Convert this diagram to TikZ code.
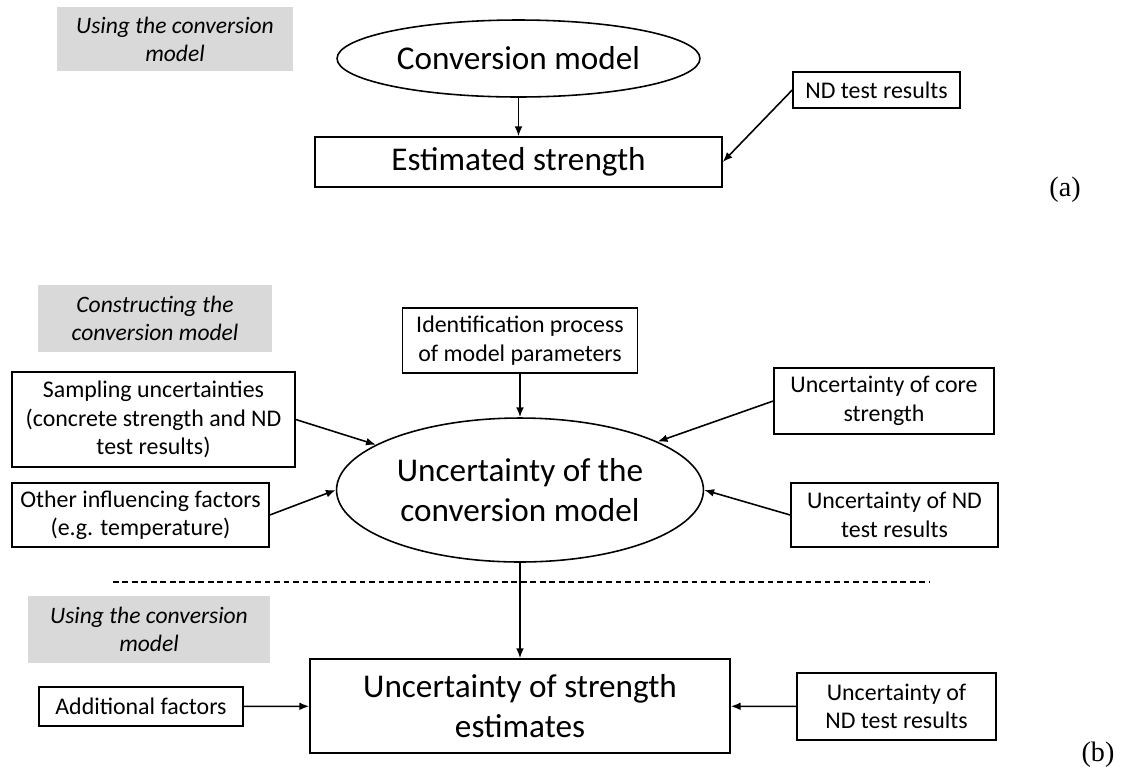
\documentclass[tikz,border=0pt]{standalone}
\usepackage{fontspec}
\setmainfont{Carlito}
\newfontfamily\timesfont{Liberation Serif}
\usetikzlibrary{shapes.geometric,arrows.meta}
\definecolor{tagGray}{HTML}{D9D9D9}

\begin{document}
\begin{tikzpicture}[x=0.02cm,y=-0.02cm,
    box/.style={draw,line width=0.9pt,rectangle,align=center,inner sep=0pt,
      font=\fontsize{13.6}{16.2}\selectfont},
    oval/.style={draw,line width=0.9pt,ellipse,align=center,inner sep=0pt},
    tag/.style={fill=tagGray,align=center,inner sep=0pt,
      font=\fontsize{13.4}{16}\selectfont\itshape},
    large/.style={font=\fontsize{18.9}{22.7}\selectfont},
    panel/.style={font=\fontsize{16}{18}\selectfont\timesfont},
    arr/.style={-{Latex[length=5.6pt,width=4.4pt]},line width=0.9pt}]
  \useasboundingbox (0,0) rectangle (1122,772);

  % (a) using the model
  \node[tag, minimum width=4.72cm, minimum height=1.28cm] (tagA) at (175,39)
    {Using the conversion\\model};
  \node[oval, large, minimum width=7.26cm, minimum height=1.54cm] (conv) at (518.5,58.5)
    {Conversion model};
  \node[box, large, minimum width=8.14cm, minimum height=1.0cm] (est) at (518.5,162)
    {Estimated strength};
  \node[box, minimum width=3.34cm, minimum height=0.72cm] (nd) at (876.5,90)
    {ND test results};
  \node[panel] (laba) at (1065,190) {(a)};

  \draw[arr] (conv) -- (est);
  \draw[arr] (nd.west) -- (est.east);

  % (b) constructing the model
  \node[tag, minimum width=4.68cm, minimum height=1.34cm] (tagB) at (155,318.5)
    {Constructing the\\conversion model};
  \node[box, minimum width=4.70cm, minimum height=1.30cm] (ident) at (520,340.5)
    {Identification process\\of model parameters};
  \node[box, minimum width=5.66cm, minimum height=1.90cm] (samp) at (153.5,419.5)
    {Sampling uncertainties\\(concrete strength and ND\\test results)};
  \node[box, minimum width=4.40cm, minimum height=1.32cm] (core) at (884,401)
    {Uncertainty of core\\strength};
  \node[oval, large, minimum width=7.34cm, minimum height=2.88cm] (unc) at (520,490)
    {Uncertainty of the\\conversion model};
  \node[box, minimum width=5.14cm, minimum height=1.28cm] (other) at (140.5,515)
    {Other influencing factors\\(e.g. temperature)};
  \node[box, minimum width=4.14cm, minimum height=1.28cm] (nd2) at (894.5,515)
    {Uncertainty of ND\\test results};

  \draw[arr] (ident) -- (unc);
  \draw[arr] (samp.east) -- (unc);
  \draw[arr] (other.east) -- (unc.west);
  \draw[arr] (core.west) -- (unc);
  \draw[arr] (nd2.west) -- (unc.east);

  % separator
  \coordinate (dashL) at (113,582);
  \coordinate (dashR) at (930,582);
  \draw[line width=0.6pt, dash pattern=on 3.2pt off 2.2pt] (dashL) -- (dashR);

  % (b) using the model
  \node[tag, minimum width=4.84cm, minimum height=1.34cm] (tagC) at (149,629.5)
    {Using the conversion\\model};
  \node[box, large, minimum width=8.40cm, minimum height=1.88cm] (bigbox) at (520,706)
    {Uncertainty of strength\\estimates};
  \node[box, minimum width=4.08cm, minimum height=0.78cm] (add) at (141,706.5)
    {Additional factors};
  \node[box, minimum width=3.98cm, minimum height=1.34cm] (nd3) at (896.5,706.5)
    {Uncertainty of\\ND test results};
  \node[panel] (labb) at (1098,755) {(b)};

  \draw[arr] (unc) -- (bigbox);
  \draw[arr] (add) -- (bigbox);
  \draw[arr] (nd3) -- (bigbox);
\end{tikzpicture}
\end{document}
